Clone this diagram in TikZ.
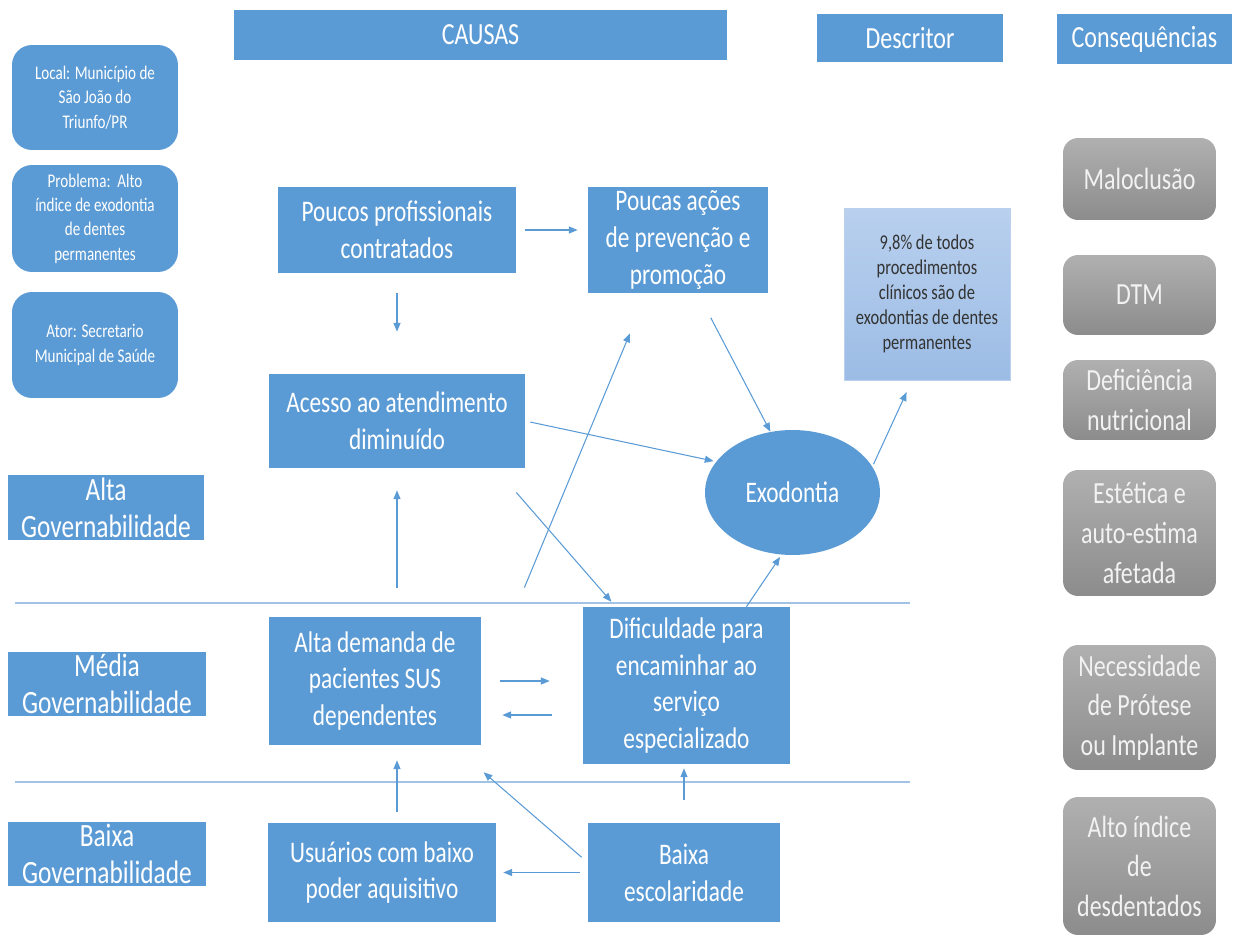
\documentclass[tikz,border=0pt]{standalone}
\usepackage{fontspec}
\setmainfont{Carlito}[FakeStretch=0.78]
\usetikzlibrary{arrows.meta,shapes.geometric}

\definecolor{azul}{HTML}{5B9BD5}
\definecolor{faixaazul}{HTML}{A2C3E6}
\definecolor{cinzaA}{HTML}{B0B0B0}
\definecolor{cinzaB}{HTML}{8C8C8C}
\definecolor{cinzaT}{HTML}{F2F2F2}
\definecolor{claroA}{HTML}{B9D0EE}
\definecolor{claroB}{HTML}{9CBCE5}

\tikzset{
  caixa/.style={fill=azul, text=white, inner sep=0pt, align=center,
    font=\fontsize{17}{21}\selectfont},
  tam/.style 2 args={minimum width=#1, minimum height=#2},
  cabec/.style={caixa, font=\fontsize{17.5}{21}\selectfont},
  nivel/.style={caixa, font=\fontsize{18.5}{21}\selectfont},
  info/.style={caixa, rounded corners=0.4cm, font=\fontsize{11}{13.8}\selectfont},
  consq/.style={rounded corners=0.3cm, top color=cinzaA, bottom color=cinzaB,
    text=cinzaT, inner sep=0pt, align=center, font=\fontsize{17.5}{22.5}\selectfont},
  seta/.style={draw=azul, line width=0.6pt, -{Triangle[length=5pt,width=4pt]}},
  faixa/.style={draw=faixaazul, line width=1.2pt}
}

\begin{document}
\begin{tikzpicture}[x=0.02cm, y=-0.02cm]
  \useasboundingbox (0,0) rectangle (1242,939);

  % separadores de governabilidade
  \draw[faixa] (15,603) -- (910,603);
  \draw[faixa] (15,782) -- (910,782);

  % cabecalhos
  \node[cabec, tam={9.86cm}{1.0cm}] (causas) at (480.5,35) {CAUSAS};
  \node[cabec, tam={3.72cm}{0.96cm}] (descritor) at (910,38) {Descritor};
  \node[cabec, tam={3.5cm}{1.0cm}] (consequencias) at (1144.5,39) {Consequências};

  % informacoes
  \node[info, tam={3.32cm}{2.1cm}] (local) at (95,97.5)
    {Local: Município de\\São João do\\Triunfo/PR};
  \node[info, tam={3.32cm}{2.14cm}] (problema) at (95,218.5)
    {Problema:\ \ Alto\\índice de exodontia\\de dentes\\permanentes};
  \node[info, tam={3.32cm}{2.12cm}] (ator) at (95,345)
    {Ator: Secretario\\Municipal de Saúde};

  % niveis
  \node[nivel, tam={3.92cm}{1.3cm}] (altagov) at (106,507.5) {Alta\\Governabilidade};
  \node[nivel, tam={3.96cm}{1.28cm}] (mediagov) at (107,684) {Média\\Governabilidade};
  \node[nivel, tam={3.96cm}{1.28cm}] (baixagov) at (107,854) {Baixa\\Governabilidade};

  % causas
  \node[caixa, tam={4.76cm}{1.72cm}] (poucos) at (397,230) {Poucos profissionais\\contratados};
  \node[caixa, tam={3.6cm}{2.12cm}] (poucas) at (678,240) {Poucas ações\\de prevenção e\\promoção};
  \node[caixa, tam={5.12cm}{1.88cm}] (acesso) at (397,421) {Acesso ao atendimento\\diminuído};
  \node[caixa, tam={4.24cm}{2.56cm}] (demanda) at (375,681) {Alta demanda de\\pacientes SUS\\dependentes};
  \node[caixa, tam={4.14cm}{3.14cm}] (dificuldade) at (686.5,685.5)
    {Dificuldade para\\encaminhar ao\\serviço\\especializado};
  \node[caixa, tam={4.56cm}{1.98cm}] (usuarios) at (382,872.5) {Usuários com baixo\\poder aquisitivo};
  \node[caixa, tam={3.84cm}{1.98cm}] (escolaridade) at (684,872.5) {Baixa\\escolaridade};

  % problema e descritor
  \node[caixa, ellipse, tam={3.5cm}{2.5cm}] (exo) at (792.5,492.5) {Exodontia};
  \node[tam={3.32cm}{3.44cm}, top color=claroA, bottom color=claroB, draw=claroB!70!white,
    line width=0.4pt, inner sep=0pt, align=center, text=black!80,
    font=\fontsize{12}{14.2}\selectfont] (descr) at (927,294)
    {9,8\% de todos\\procedimentos\\clínicos são de\\exodontias de dentes\\permanentes};

  % consequencias
  \node[consq, tam={3.06cm}{1.64cm}] (maloclusao) at (1139.5,179) {Maloclusão};
  \node[consq, tam={3.06cm}{1.6cm}] (dtm) at (1139.5,295) {DTM};
  \node[consq, tam={3.06cm}{1.6cm}] (deficiencia) at (1139.5,400) {Deficiência\\nutricional};
  \node[consq, tam={3.06cm}{2.52cm}] (estetica) at (1139.5,533) {Estética e\\auto-estima\\afetada};
  \node[consq, tam={3.06cm}{2.5cm}] (protese) at (1139.5,707.5) {Necessidade\\de Prótese\\ou Implante};
  \node[consq, tam={3.06cm}{2.76cm}] (desdentados) at (1139.5,866) {Alto índice\\de\\desdentados};

  % setas
  \draw[seta, shorten <=0.18cm, shorten >=0.2cm] (poucos.east) -- (poucos.east -| poucas.west);
  \draw[seta, shorten <=0.4cm, shorten >=0.84cm] (poucos.south) -- (acesso.north);
  \draw[seta, shorten <=0.55cm] ([xshift=0.4cm]poucas.south) -- (exo.110);
  \draw[seta, shorten <=0.1cm, shorten >=0.05cm] (acesso.east) -- (exo.158);
  \draw[seta, shorten <=0.64cm, shorten >=0.13cm] ([xshift=-0.6cm]acesso.south east)
    -- ([xshift=0.66cm]dificuldade.north west);
  \draw[seta, shorten <=0.63cm, shorten >=0.87cm] ([xshift=0.62cm]demanda.north east)
    -- ([xshift=-0.63cm]poucas.south);
  \draw[seta, shorten <=0.58cm, shorten >=0.44cm] (acesso.south |- demanda.north) -- (acesso.south);
  \draw[seta, shorten >=0.05cm] ([xshift=1.2cm]dificuldade.north) -- (exo.-100);
  \draw[seta, shorten <=0.05cm, shorten >=0.26cm] (exo.18) -- ([xshift=-0.3cm]descr.south);
  \draw[seta, shorten <=0.38cm, shorten >=0.66cm] (demanda.east) -- (demanda.east -| dificuldade.west);
  \coordinate (volta) at ([yshift=-0.68cm]demanda.east);
  \draw[seta, shorten <=0.62cm, shorten >=0.42cm] (volta -| dificuldade.west) -- (volta);
  \draw[seta, shorten <=0.22cm, shorten >=0.3cm] (usuarios.north -| acesso.south)
    -- (demanda.south -| acesso.south);
  \draw[seta, shorten <=0.16cm, shorten >=0.14cm] (escolaridade.west) -- (usuarios.east);
  \draw[seta, shorten <=0.16cm, shorten >=0.06cm] ([yshift=0.2cm]escolaridade.west)
    -- ([yshift=-0.5cm]demanda.south east);
  \draw[seta, shorten <=0.46cm, shorten >=0.08cm] (escolaridade.north)
    -- (escolaridade.north |- dificuldade.south);
\end{tikzpicture}
\end{document}
